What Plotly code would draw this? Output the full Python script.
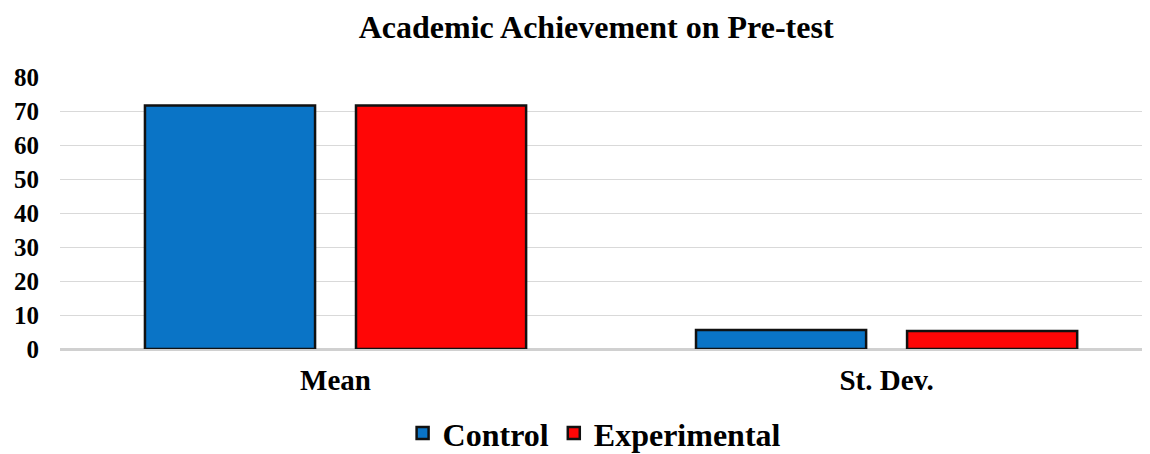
import plotly.graph_objects as go

categories = ["Mean", "St. Dev."]
control = [71.6, 5.6]
experimental = [71.6, 5.3]
series_names = ["Control", "Experimental"]
y_ticks = [0, 10, 20, 30, 40, 50, 60, 70, 80]

FONT = "Liberation Serif"

fig = go.Figure()
fig.add_trace(go.Bar(x=categories, y=control, name=series_names[0],
                     marker=dict(color="#0a74c6", line=dict(color="#111111", width=2.5))))
fig.add_trace(go.Bar(x=categories, y=experimental, name=series_names[1],
                     marker=dict(color="#ff0606", line=dict(color="#111111", width=2.5))))

fig.update_layout(
    width=1142, height=446,
    margin=dict(l=52, r=0, t=69, b=105, autoexpand=False),
    paper_bgcolor="white", plot_bgcolor="white",
    barmode="group", bargap=0.234, bargroupgap=0.194,
    title=dict(text="Academic Achievement on Pre-test", x=0.515, xanchor="center",
               y=0.957, yanchor="middle",
               font=dict(family=FONT, size=32, color="black", weight="bold")),
    font=dict(family=FONT, color="black"),
    showlegend=True,
    legend=dict(orientation="h", x=0.49, xanchor="center", y=-0.31, yanchor="middle",
                font=dict(family=FONT, size=32, color="black", weight="bold"),
                traceorder="normal"),
    xaxis=dict(range=[-0.5, 1.478],
               tickfont=dict(family=FONT, size=29, color="black", weight="bold"),
               ticklabelstandoff=11, showgrid=False, showline=False, automargin=False),
    yaxis=dict(range=[0, 80], tickvals=y_ticks,
               tickfont=dict(family=FONT, size=25, color="black", weight="bold"),
               showgrid=True, gridcolor="#d9d9d9", gridwidth=1,
               zeroline=True, zerolinecolor="#d0d0d0", zerolinewidth=3,
               ticklabelstandoff=20, automargin=False),
)

fig.write_html("out.html")
